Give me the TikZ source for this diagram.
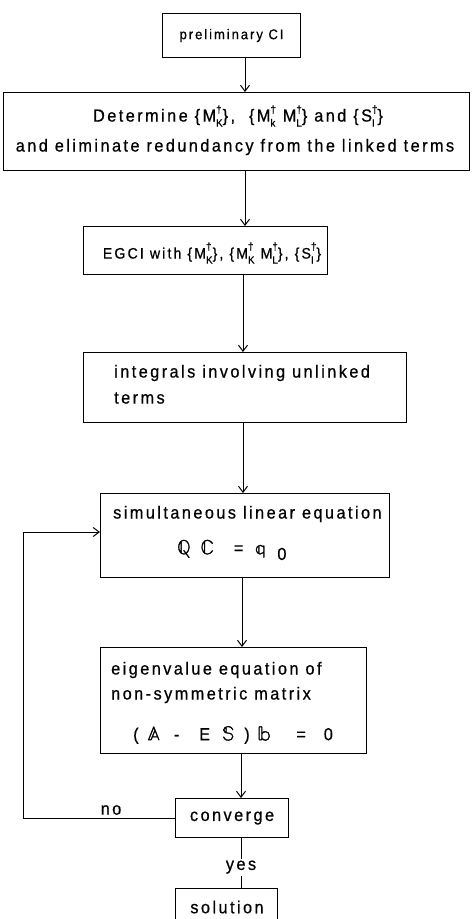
\documentclass[tikz,border=0pt]{standalone}
\usepackage{amsmath}
\usepackage{unicode-math}
\setmainfont{Liberation Sans}[FakeStretch=0.93,LetterSpace=14,FakeBold=0.6]
\setmathfont{Latin Modern Math}[FakeBold=1.5]
\usetikzlibrary{arrows.meta}
\newcommand\dg[2]{#1\hbox{\fontsize{10.5}{11}\selectfont\ooalign{\raisebox{8.5pt}{†}\cr\raisebox{-5pt}{#2}\cr}}}
\newcommand\bbm[1]{{\fontsize{20}{20}\selectfont$\symbb{#1}$}}
\begin{document}
\begin{tikzpicture}[x=1pt,y=-1pt,
  box/.style={draw, line width=1.1pt, anchor=north west, inner sep=0pt},
  txt/.style={font=\fontsize{17.5}{20}\selectfont, inner sep=0pt},
  ltxt/.style={txt, anchor=west},
  arr/.style={line width=1pt, -{Straight Barb[length=6pt,width=9pt,line width=1pt]}},
  con/.style={line width=1pt}]
\useasboundingbox (0,0) rectangle (472,919);
\fill[white] (0,0) rectangle (472,919);

% boxes
\node[box, minimum width=138pt, minimum height=44pt, txt, font=\fontsize{14}{16}\selectfont, anchor=north west] (prelim) at (162,13) {preliminary CI};
\node[box, minimum width=466pt, minimum height=78pt] (det) at (3,92) {};
\node[box, minimum width=244pt, minimum height=48pt] (egci) at (83,226) {};
\node[box, minimum width=323pt, minimum height=70pt] (integ) at (83,352) {};
\node[box, minimum width=289pt, minimum height=84pt] (sim) at (100,493) {};
\node[box, minimum width=266pt, minimum height=106pt] (eig) at (100,647) {};
\node[box, minimum width=113pt, minimum height=39pt, txt, anchor=north west] (conv) at (175,798) {converge};
\node[box, minimum width=102pt, minimum height=40pt, anchor=north west] (sol) at (175,888) {};

% texts
\node[txt] (tdet1) at (238,116) {Determine \{\dg{M}{K}\}, \ \{\dg{M}{k} \dg{M}{L}\} and \{\dg{S}{I}\}};
\node[txt] (tdet2) at (235,147) {and eliminate redundancy from the linked terms};
\node[txt, font=\fontsize{15.2}{18}\selectfont] (tegci) at (212,253) {EGCI with \{\dg{M}{K}\}, \{\dg{M}{K} \dg{M}{L}\}, \{\dg{S}{I}\}};
\node[ltxt] (tint1) at (114,373) {integrals involving unlinked};
\node[ltxt] (tint2) at (114,398) {terms};
\node[ltxt] (tsim1) at (113,514) {simultaneous linear equation};
\node[txt, anchor=west] (tsim2) at (177,550) {\bbm{Q}\hspace{10pt}\bbm{C}\hspace{20pt}=\hspace{12pt}\bbm{q}\hspace{12pt}\raisebox{-6pt}{0}};
\node[ltxt] (teig1) at (111,670) {eigenvalue equation of};
\node[ltxt] (teig2) at (111,695) {non-symmetric matrix};
\node[txt, anchor=west] (teig3) at (133,735) {(\hspace{9pt}\bbm{A}\hspace{14pt}-\hspace{20pt}E\hspace{12pt}\bbm{S}\hspace{10pt})\hspace{8pt}\bbm{b}\hspace{26pt}=\hspace{18pt}0};
\node[txt] (tsol) at (227,907) {solution};

% connector columns
\coordinate (c1) at (245,0);
\coordinate (c2) at (243,0);
\coordinate (c3) at (242,0);
\coordinate (c4) at (241,0);
\coordinate (fbb) at (23,818);
\coordinate (fbt) at (23,532);

\draw[arr] (prelim.south -| c1) -- (det.north -| c1);
\draw[arr] (det.south -| c1) -- (egci.north -| c1);
\draw[arr] (egci.south -| c2) -- (integ.north -| c2);
\draw[arr] (integ.south -| c2) -- (sim.north -| c2);
\draw[arr] (sim.south -| c3) -- (eig.north -| c3);
\draw[arr] (eig.south -| c4) -- (conv.north -| c4);
\draw[arr] (conv.west |- fbb) -- (fbb) -- (fbt) -- (sim.west |- fbt);
\node[txt, anchor=south] (lno) at (111,815) {no};
\draw[con] (conv.south -| c4) -- node[txt, fill=white, inner sep=2pt, pos=0.58] (lyes) {yes} (sol.north -| c4);
\end{tikzpicture}
\end{document}
